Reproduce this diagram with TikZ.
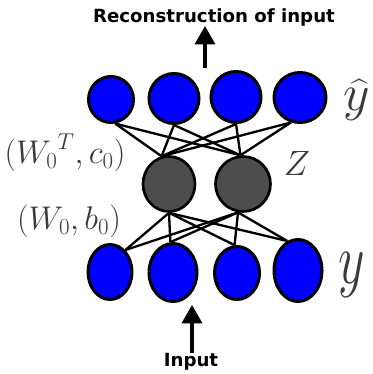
\RequirePackage{fix-cm}
\documentclass[tikz,border=0pt]{standalone}
\usepackage{amsmath}
\usepackage{fontspec}
\newfontfamily\capfont{DejaVu Sans}
\usepackage{tikz}
\usetikzlibrary{arrows.meta, positioning, shapes.geometric}
\definecolor{UnitBlue}{HTML}{0000FF}
\definecolor{CodeGray}{HTML}{4D4D4D}
\definecolor{LabelGray}{HTML}{3A3A3A}

\begin{document}
\begin{tikzpicture}[>=Triangle, x=0.03cm, y=-0.03cm]
        \tikzstyle{unit}    = [ellipse, draw=black, fill=UnitBlue, line width=0.09cm, inner sep=0pt]
        \tikzstyle{code}    = [ellipse, draw=black, fill=CodeGray, line width=0.08cm, inner sep=0pt, minimum height=1.65cm]
        \tikzstyle{link}    = [line width=0.07cm]
        \tikzstyle{flow}    = [->, line width=0.1cm, arrows={-Triangle[width=0.6cm, length=0.55cm]}]
        \tikzstyle{caption} = [inner sep=0pt, font=\capfont\bfseries\fontsize{15.5}{18}\selectfont]
        \tikzstyle{sym}     = [inner sep=0pt, text=LabelGray, font=\fontsize{28}{32}\selectfont]

        \useasboundingbox (0,0) rectangle (372,374);

        % Output layer
        \node[unit, minimum width=1.35cm, minimum height=1.38cm] (t1) at (111,99.5) {};
        \node[unit, minimum width=1.5cm, minimum height=1.5cm] (t2) at (174,98.5) {};
        \node[unit, minimum width=1.5cm, minimum height=1.53cm] (t3) at (236,97) {};
        \node[unit, minimum width=1.56cm, minimum height=1.5cm] (t4) at (300,97.5) {};

        % Code layer
        \node[code, minimum width=1.56cm] (h1) at (169,184) {};
        \node[code, minimum width=1.65cm] (h2) at (243,184) {};

        % Input layer
        \node[unit, minimum width=1.32cm, minimum height=1.65cm] (b1) at (110,272) {};
        \node[unit, minimum width=1.44cm, minimum height=1.74cm] (b2) at (173,272.5) {};
        \node[unit, minimum width=1.35cm, minimum height=1.59cm] (b3) at (237,273) {};
        \node[unit, minimum width=1.44cm, minimum height=1.86cm] (b4) at (298,270.5) {};

        % Weights (decoder above, encoder below)
        \foreach \i/\a in {1/280,2/270,3/270,4/250}
            \foreach \j/\b in {1/105,2/95}
                \draw[link] (t\i.\a) -- (h\j.\b);
        \foreach \i/\a in {1/55,2/95,3/95,4/110}
            \foreach \j/\b in {1/270,2/260}
                \draw[link] (b\i.\a) -- (h\j.\b);

        % Labels
        \node[sym, font=\fontsize{44}{48}\selectfont] (yhat) at (357,100) {$\widehat{y}$};
        \node[sym, font=\fontsize{30}{34}\selectfont] (z) at (297,163.5) {$Z$};
        \node[sym, font=\fontsize{44}{48}\selectfont] (y) at (352,275) {\scalebox{1}[1.4]{$y$}};
        \node[sym] (dec) at (65,153) {$({W_0}^T, c_0)$};
        \node[sym] (enc) at (69,221) {$(W_0, b_0)$};

        % Input and output
        \node[caption] (recon) at (214,17) {Reconstruction of input};
        \node[caption] (input) at (191,362) {Input};
        \coordinate (up) at (205,68);
        \coordinate (down) at (192,305);
        \draw[flow] (up) -- (up |- recon.south);
        \draw[flow] (input.north -| down) -- (down);
    \end{tikzpicture}
\end{document}
